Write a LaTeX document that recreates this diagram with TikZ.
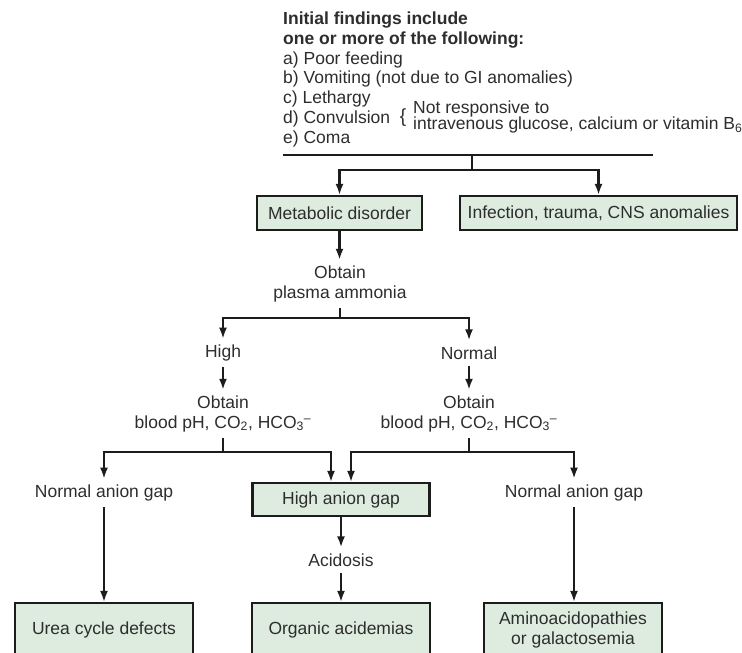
\documentclass[tikz,border=0pt]{standalone}
\usepackage{fontspec}
\setmainfont{Liberation Sans}
\usetikzlibrary{arrows.meta}
\definecolor{boxfill}{RGB}{221,236,223}
\definecolor{txt}{RGB}{45,45,45}
\definecolor{ln}{RGB}{28,28,28}
\begin{document}
\begin{tikzpicture}[x=1pt,y=-1pt,
  every node/.style={font=\fontsize{17.5}{19.7}\selectfont, text=txt},
  box/.style={draw=ln, line width=2.2pt, fill=boxfill, align=center, inner sep=0pt},
  lbl/.style={align=center, inner xsep=2pt, inner ysep=6pt},
  conn/.style={draw=ln, line width=2.1pt},
  arr/.style={conn, -{Latex[length=11pt,width=8pt]}},
]
\useasboundingbox (0,0) rectangle (742,653);

% header
\node[anchor=north west, align=left, inner sep=0pt] (hdr) at (283,12)
  {\textbf{Initial findings include}\\
   \textbf{one or more of the following:}\\
   a) Poor feeding\\
   b) Vomiting (not due to GI anomalies)\\
   c) Lethargy\\
   d) Convulsion\\
   e) Coma};
\node[inner sep=0pt, font=\fontsize{19}{19}\selectfont] (brace) at (403,118) {\{};
\node[anchor=west, align=left, inner sep=0pt, font=\fontsize{17.5}{16.5}\selectfont] (note) at (413,117)
  {Not responsive to\\ intravenous glucose, calcium or vitamin B\textsubscript{6}};

\coordinate (ruleL) at (283,155);
\coordinate (ruleR) at (653,155);
\coordinate (ruleM) at (472,155);
\coordinate (s1) at (472,170);

% boxes
\node[box, minimum width=165pt, minimum height=34pt] (metab) at (339.5,213) {Metabolic disorder};
\node[box, minimum width=277pt, minimum height=34pt] (infect) at (598.5,213) {Infection, trauma, CNS anomalies};
\node[box, minimum width=177pt, minimum height=33pt] (hag) at (341,499.5) {High anion gap};
\node[box, minimum width=178pt, minimum height=54pt] (urea) at (104,630) {Urea cycle defects};
\node[box, minimum width=178pt, minimum height=54pt] (org) at (341,630) {Organic acidemias};
\node[box, minimum width=178pt, minimum height=54pt, font=\fontsize{17.5}{20}\selectfont] (amino) at (573,630) {Aminoacidopathies\\or galactosemia};

% labels
\node[lbl] (obt1) at (340,284) {Obtain\\plasma ammonia};
\node[lbl] (high) at (223,353) {High};
\node[lbl] (normal) at (469,353) {Normal};
\node[lbl] (obt2) at (223,414) {Obtain\\blood pH, CO\textsubscript{2}, HCO\textsubscript{3}\textsuperscript{–}};
\node[lbl] (obt3) at (469,414) {Obtain\\blood pH, CO\textsubscript{2}, HCO\textsubscript{3}\textsuperscript{–}};
\node[lbl] (nag1) at (104,493) {Normal anion gap};
\node[lbl] (nag2) at (574,493) {Normal anion gap};
\node[lbl] (acid) at (341,560) {Acidosis};

\coordinate (s2) at (340,318);
\coordinate (s3) at (223,452);
\coordinate (s4) at (469,452);

% connectors
\draw[conn] (ruleL) -- (ruleR);
\draw[conn] (ruleM) -- (s1);
\draw[arr] (s1) -| (metab.north);
\draw[arr] (s1) -| (infect.north);

\draw[arr] (metab.south) -- (metab.south |- obt1.north);
\draw[conn] (obt1.south) -- (s2);
\draw[arr] (s2) -| (high.north);
\draw[arr] (s2) -| (normal.north);
\draw[arr] (high.south) -- (obt2.north);
\draw[arr] (normal.south) -- (obt3.north);

\draw[conn] (obt2.south) -- (s3);
\draw[arr] (s3) -| (nag1.north);
\draw[arr] (s3) -| ([xshift=-10pt]hag.north);
\draw[conn] (obt3.south) -- (s4);
\draw[arr] (s4) -| ([xshift=10pt]hag.north);
\draw[arr] (s4) -| (nag2.north);

\draw[arr] (nag1.south) -- (urea.north);
\draw[arr] (hag.south) -- (acid.north);
\draw[arr] (acid.south) -- (org.north);
\draw[arr] (nag2.south) -- (nag2.south |- amino.north);
\end{tikzpicture}
\end{document}
